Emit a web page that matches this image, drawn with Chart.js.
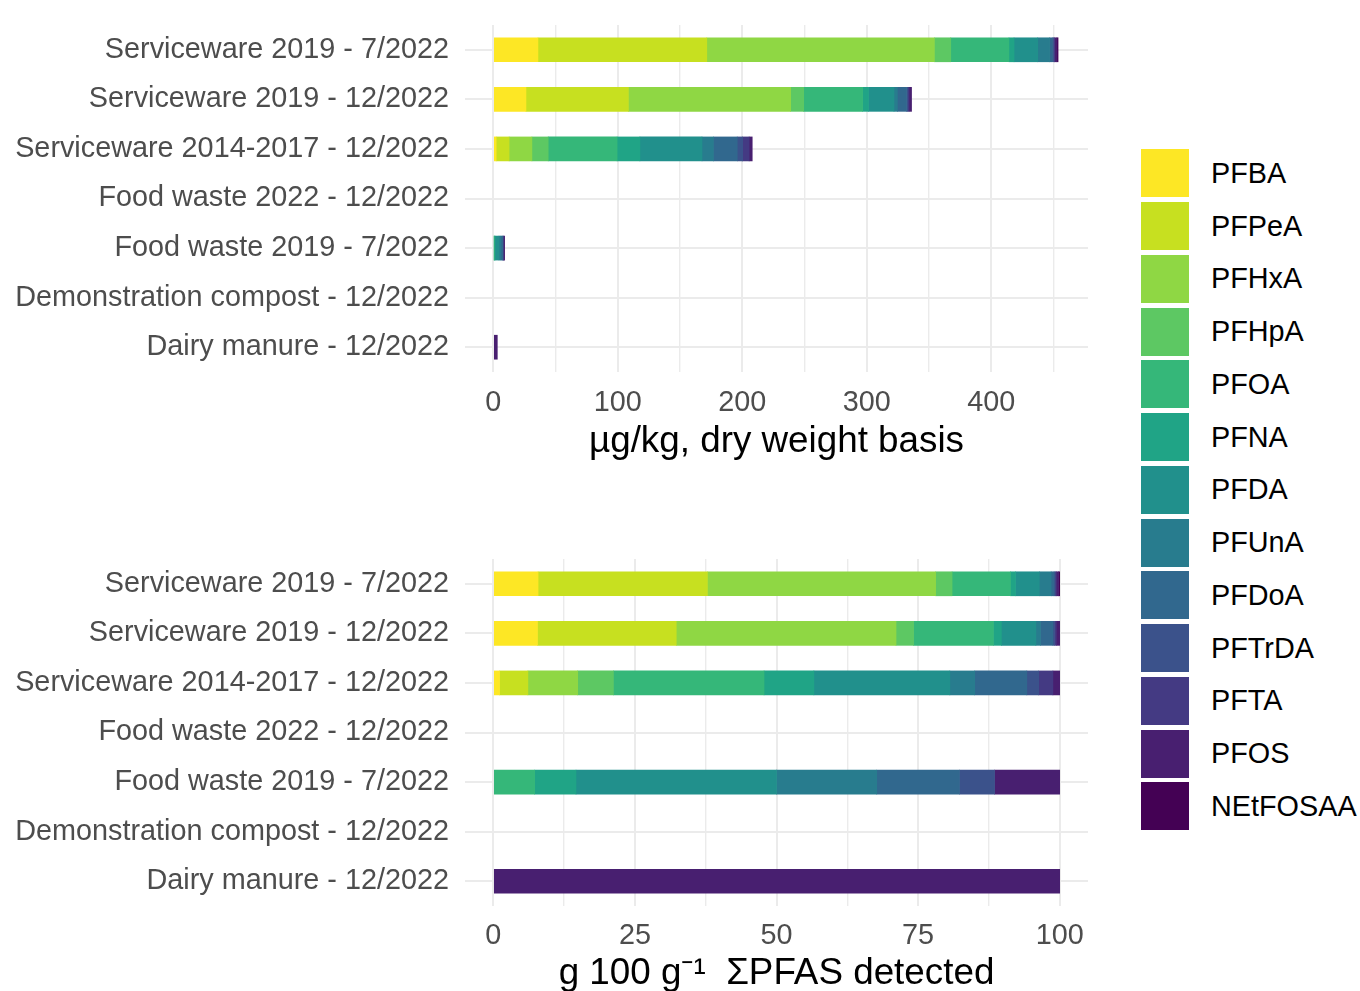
<!DOCTYPE html>
<html>
<head>
<meta charset="utf-8">
<script src="https://cdn.jsdelivr.net/npm/chart.js@4.4.0/dist/chart.umd.min.js"></script>
<style>
    body { margin: 0; width: 1360px; height: 991px; overflow: hidden; background: #fff; font-family: "Liberation Sans", Arial, sans-serif; }
    #top { position: absolute; left: 0; top: 0; }
    #bottom { position: absolute; left: 0; top: 502px; }
    #legend { position: absolute; left: 1141px; top: 147px; }
    .item { display: flex; align-items: center; height: 52.75px; }
    .key { width: 48px; height: 48px; margin-right: 22px; }
    .item span { font-size: 28.8px; color: #000; }
</style>
</head>
<body>
<canvas id="top" width="1100" height="466"></canvas>
<canvas id="bottom" width="1100" height="494"></canvas>
<div id="legend"></div>
<script>
const samples = [
    'Serviceware 2019 - 7/2022',
    'Serviceware 2019 - 12/2022',
    'Serviceware 2014-2017 - 12/2022',
    'Food waste 2022 - 12/2022',
    'Food waste 2019 - 7/2022',
    'Demonstration compost - 12/2022',
    'Dairy manure - 12/2022',
]

// total PFAS detected, ug/kg dry weight
const totals = [453.7, 336, 208, 0, 9.1, 0, 3.2]

// share of each compound, g per 100 g of total detected
const PFBA     = [7.9, 7.8, 1.1, 0, 0, 0, 0]
const PFPeA    = [29.9, 24.5, 5.0, 0, 0, 0, 0]
const PFHxA    = [40.3, 38.8, 8.8, 0, 0, 0, 0]
const PFHpA    = [2.9, 3.1, 6.3, 0, 0, 0, 0]
const PFOA     = [10.3, 14.1, 26.6, 0, 7.3, 0, 0]
const PFNA     = [0.9, 1.4, 8.8, 0, 7.3, 0, 0]
const PFDA     = [4.2, 6.1, 24.0, 0, 35.4, 0, 0]
const PFUnA    = [2.1, 0.8, 4.4, 0, 17.7, 0, 0]
const PFDoA    = [0.5, 2.2, 9.2, 0, 14.6, 0, 0]
const PFTrDA   = [0.2, 0.3, 2.1, 0, 6.2, 0, 0]
const PFTA     = [0.2, 0.3, 2.5, 0, 0, 0, 0]
const PFOS     = [0.4, 0.6, 1.2, 0, 11.5, 0, 100]
const NEtFOSAA = [0.2, 0, 0, 0, 0, 0, 0]

const compounds = ['PFBA', 'PFPeA', 'PFHxA', 'PFHpA', 'PFOA', 'PFNA', 'PFDA', 'PFUnA', 'PFDoA', 'PFTrDA', 'PFTA', 'PFOS', 'NEtFOSAA']
const shares = [PFBA, PFPeA, PFHxA, PFHpA, PFOA, PFNA, PFDA, PFUnA, PFDoA, PFTrDA, PFTA, PFOS, NEtFOSAA]
const colors = ['#FDE725', '#C7E020', '#8FD744', '#5DC863', '#35B779', '#20A486', '#21908C', '#287C8E', '#31688E', '#3B528B', '#443A83', '#481F70', '#440154']

const topTicks = [0, 50, 100, 150, 200, 250, 300, 350, 400, 450]
const bottomTicks = [0, 12.5, 25, 37.5, 50, 62.5, 75, 87.5, 100]

Chart.defaults.font.family = '"Liberation Sans", Arial, sans-serif'
Chart.defaults.animation = false

function makeChart(id, datasets, opts) {
    return new Chart(document.getElementById(id), {
        type: 'bar',
        data: {labels: samples, datasets: datasets},
        options: {
            indexAxis: 'y',
            responsive: false,
            layout: {padding: {top: opts.padTop, right: 12, left: 0, bottom: 0}},
            plugins: {legend: {display: false}, tooltip: {enabled: false}},
            datasets: {bar: {barThickness: 24, skipNull: true}},
            scales: {
                x: {
                    stacked: true,
                    min: opts.min,
                    max: opts.max,
                    border: {display: false},
                    afterBuildTicks: (s) => { s.ticks = opts.ticks.map(v => ({value: v})) },
                    afterFit: (s) => {
                        s.height = opts.axisHeight
                        s.paddingLeft = 0
                        s.paddingRight = 0
                    },
                    grid: {
                        color: '#EBEBEB',
                        lineWidth: (c) => opts.labelled(c.tick.value) ? 2 : 1.4,
                        drawTicks: false,
                    },
                    ticks: {
                        padding: opts.tickPad,
                        color: '#4D4D4D',
                        font: {size: 28.8},
                        callback: (v) => opts.labelled(v) ? String(v) : '',
                    },
                    title: {
                        display: true,
                        text: opts.title,
                        color: '#000',
                        font: {size: 36.8},
                        padding: {top: 0, bottom: opts.titlePad},
                    },
                },
                y: {
                    stacked: true,
                    border: {display: false},
                    afterFit: (s) => {
                        s.width = 465
                        s.paddingTop = 0
                        s.paddingBottom = 0
                    },
                    grid: {color: '#EBEBEB', lineWidth: 2, offset: false, drawTicks: false},
                    ticks: {padding: 16, color: '#4D4D4D', font: {size: 28.8}},
                },
            },
        },
    })
}

const orNull = (v) => v > 0 ? v : null

const topDatasets = compounds.map((name, i) => ({
    label: name,
    data: shares[i].map((p, r) => orNull(totals[r] * p / 100)),
    backgroundColor: colors[i],
    borderWidth: 0,
}))

const bottomDatasets = compounds.map((name, i) => ({
    label: name,
    data: shares[i].map(orNull),
    backgroundColor: colors[i],
    borderWidth: 0,
}))

makeChart('top', topDatasets, {
    padTop: 25, min: -22.75, max: 477.75, ticks: topTicks, axisHeight: 94, tickPad: 14, titlePad: 2,
    labelled: (v) => v % 100 === 0,
    title: 'µg/kg, dry weight basis',
})

makeChart('bottom', bottomDatasets, {
    padTop: 57, min: -5, max: 105, ticks: bottomTicks, axisHeight: 90, tickPad: 13, titlePad: 0,
    labelled: (v) => v % 25 === 0,
    title: 'g 100 g⁻¹  ΣPFAS detected',
})

const legend = document.getElementById('legend')
compounds.forEach((name, i) => {
    const item = document.createElement('div')
    item.className = 'item'
    item.innerHTML = `<div class="key" style="background:${colors[i]}"></div><span>${name}</span>`
    legend.appendChild(item)
})
</script>
</body>
</html>
